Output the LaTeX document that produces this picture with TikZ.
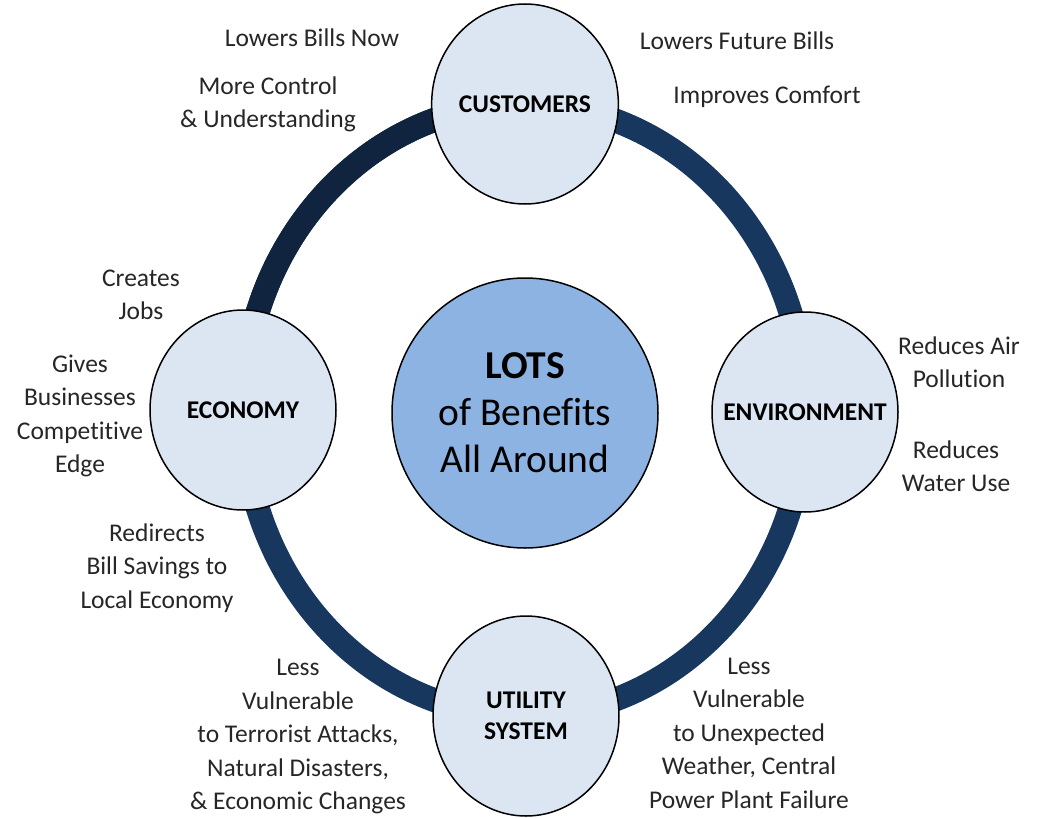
\documentclass[tikz,border=0pt]{standalone}
\usepackage{fontspec}
\setmainfont{Carlito}[Ligatures=NoCommon]
\usetikzlibrary{shapes.geometric}
\definecolor{ringblue}{HTML}{17375E}
\definecolor{ringdark}{HTML}{10243F}
\definecolor{hubfill}{HTML}{DCE6F2}
\definecolor{corefill}{HTML}{8DB3E2}
\definecolor{notegray}{HTML}{262626}
\tikzset{
  hub/.style={ellipse, draw=black, line width=1.5pt, fill=hubfill, minimum width=186pt, minimum height=200pt, inner sep=0pt, align=center, font=\bfseries\fontsize{25.5}{31}\selectfont},
  core/.style={ellipse, draw=black, line width=1.5pt, fill=corefill, minimum width=266pt, minimum height=270pt, inner sep=0pt, align=center, font=\fontsize{39.5}{47}\selectfont},
  note/.style={align=center, text=notegray, inner sep=0pt, font=\fontsize{25.5}{33.5}\selectfont},
  ring/.style={line width=24pt}
}
\begin{document}
\begin{tikzpicture}[x=1pt,y=-1pt]
\useasboundingbox (0,0) rectangle (1037,819);

\draw[ring, ringblue] (524pt,-410pt) ellipse [x radius=281pt, y radius=306pt];
\draw[ring, ringdark] (524pt,-104pt) arc [start angle=90, end angle=180, x radius=281pt, y radius=306pt];

\node[core] (core) at (525,413) {\textbf{LOTS}\\of Benefits\\All Around};
\node[hub] (cust) at (525,104) {CUSTOMERS};
\node[hub, inner xsep=-22pt] (env) at (805,412) {ENVIRONMENT};
\node[hub] (util) at (526,716) {UTILITY\\SYSTEM};
\node[hub] (econ) at (243,410) {ECONOMY};

\node[note] (billsnow) at (312,38) {Lowers Bills Now};
\node[note] (control) at (268,104.5) {More Control\\\& Understanding};
\node[note] (futurebills) at (737,41) {Lowers Future Bills};
\node[note] (comfort) at (767,97) {Improves Comfort};
\node[note] (jobs) at (141,295) {Creates\\Jobs};
\node[note] (edge) at (80,416) {Gives\\Businesses\\Competitive\\Edge};
\node[note] (savings) at (157,568) {Redirects\\Bill Savings to\\Local Economy};
\node[note] (air) at (959,362) {Reduces Air\\Pollution};
\node[note] (water) at (956,466) {Reduces\\Water Use};
\node[note] (attacks) at (298,737) {Less\\Vulnerable\\to Terrorist Attacks,\\Natural Disasters,\\\& Economic Changes};
\node[note] (weather) at (749,733) {Less\\Vulnerable\\to Unexpected\\Weather, Central\\Power Plant Failure};

\end{tikzpicture}
\end{document}
